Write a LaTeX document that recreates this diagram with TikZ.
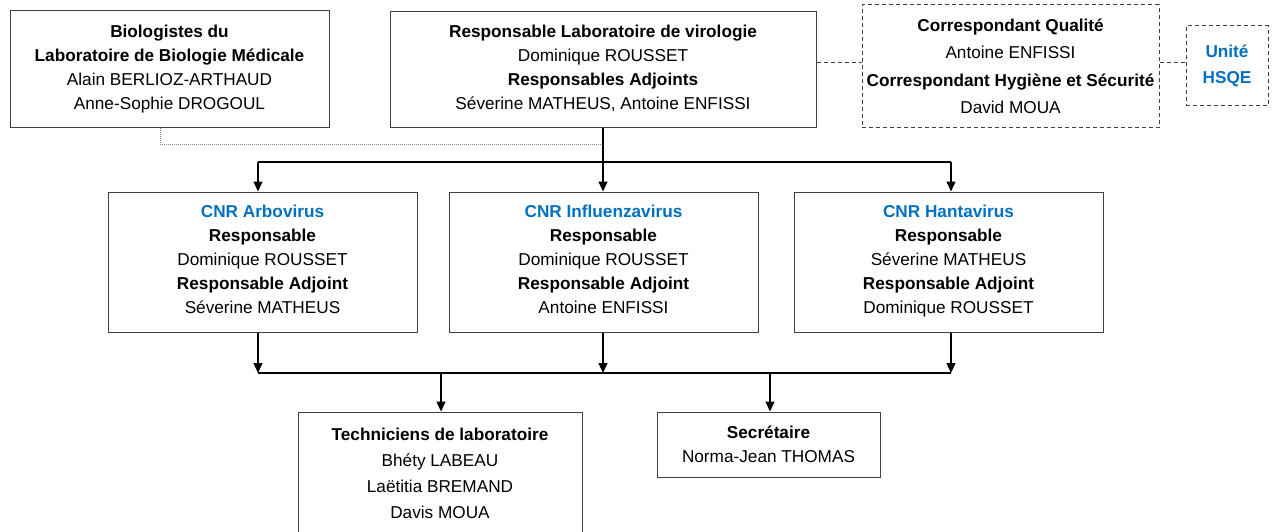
\documentclass[tikz,border=0pt]{standalone}
\usepackage{fontspec}
\setmainfont{Liberation Sans}
\usetikzlibrary{arrows.meta,calc}
\definecolor{cnrblue}{HTML}{0070C0}
\definecolor{boxline}{HTML}{404040}
\begin{document}
\begin{tikzpicture}[x=1pt,y=-1pt,
  box/.style={draw=boxline, line width=1pt, rectangle, inner sep=0pt, align=center, font=\fontsize{17.2}{24}\selectfont},
  dbox/.style={box, dash pattern=on 4pt off 3pt},
  arr/.style={draw=black, line width=1.2pt, -{Triangle[length=10pt,width=9pt]}},
  ln/.style={draw=black, line width=1.2pt},
  dashln/.style={draw=boxline, line width=1pt, dash pattern=on 4pt off 3pt},
  dotln/.style={draw=gray, line width=1pt, dash pattern=on 1pt off 1pt}]
\useasboundingbox (0,0) rectangle (1277,532);
\clip (0,0) rectangle (1277,532);
% top row
\node[box, minimum width=319pt, minimum height=117pt] (bio) at (169.5,69.5)
  {\textbf{Biologistes du}\\\textbf{Laboratoire de Biologie Médicale}\\Alain BERLIOZ-ARTHAUD\\Anne-Sophie DROGOUL};
\node[box, minimum width=426pt, minimum height=116pt] (resp) at (603,70)
  {\textbf{Responsable Laboratoire de virologie}\\Dominique ROUSSET\\\textbf{Responsables Adjoints}\\Séverine MATHEUS, Antoine ENFISSI\\[-18pt]\mbox{}};
\node[dbox, minimum width=297pt, minimum height=123pt, font=\fontsize{17.2}{27.5}\selectfont] (qual) at (1010.5,66.5)
  {\textbf{Correspondant Qualité}\\Antoine ENFISSI\\\textbf{Correspondant Hygiène et Sécurité}\\David MOUA};
\node[dbox, minimum width=82pt, minimum height=80pt, font=\fontsize{17.2}{26}\selectfont\bfseries, text=cnrblue] (hsqe) at (1227,66)
  {Unité\\HSQE};
% CNR row
\node[box, minimum width=309pt, minimum height=140pt] (arbo) at (262.5,262)
  {\textbf{\color{cnrblue}CNR Arbovirus}\\\textbf{Responsable}\\Dominique ROUSSET\\\textbf{Responsable Adjoint}\\Séverine MATHEUS\\[-18pt]\mbox{}};
\node[box, minimum width=309pt, minimum height=140pt] (influ) at (603.5,262)
  {\textbf{\color{cnrblue}CNR Influenzavirus}\\\textbf{Responsable}\\Dominique ROUSSET\\\textbf{Responsable Adjoint}\\Antoine ENFISSI\\[-18pt]\mbox{}};
\node[box, minimum width=309pt, minimum height=140pt] (hanta) at (948.5,262)
  {\textbf{\color{cnrblue}CNR Hantavirus}\\\textbf{Responsable}\\Séverine MATHEUS\\\textbf{Responsable Adjoint}\\Dominique ROUSSET\\[-18pt]\mbox{}};
% bottom row
\node[box, minimum width=284pt, minimum height=123pt, font=\fontsize{17.2}{26}\selectfont] (tech) at (440,473.5)
  {\textbf{Techniciens de laboratoire}\\Bhéty LABEAU\\Laëtitia BREMAND\\Davis MOUA};
\node[box, minimum width=223pt, minimum height=65pt] (sec) at (768.5,444.5)
  {\textbf{Secrétaire}\\Norma-Jean THOMAS};
% helper coordinates
\coordinate (dl) at (0,63);
\coordinate (dotend) at (603,145);
% dashed links
\draw[dashln] (resp.east |- dl) -- (qual.west |- dl);
\draw[dashln] (qual.east |- dl) -- (hsqe.west |- dl);
% dotted link
\draw[dotln] ([xshift=-9.5pt]bio.south) |- (dotend);
% top arrows
\draw[arr] (resp.south) -- (resp.south |- influ.north);
\coordinate (ta) at (258,162);
\coordinate (th) at (951,162);
\draw[ln] (ta) -- (th);
\draw[arr] (ta) -- (ta |- arbo.north);
\draw[arr] (th) -- (th |- hanta.north);
% bottom bus
\coordinate (ba) at (258,373);
\coordinate (bi) at (603,373);
\coordinate (bh) at (951,373);
\draw[arr] (ba |- arbo.south) -- (ba);
\draw[arr] (bi |- influ.south) -- (bi);
\draw[arr] (bh |- hanta.south) -- (bh);
\draw[ln] (ba) -- (bh);
\coordinate (bt) at (441,373);
\coordinate (bs) at (770,373);
\draw[arr] (bt) -- (bt |- tech.north);
\draw[arr] (bs) -- (bs |- sec.north);
\end{tikzpicture}
\end{document}
